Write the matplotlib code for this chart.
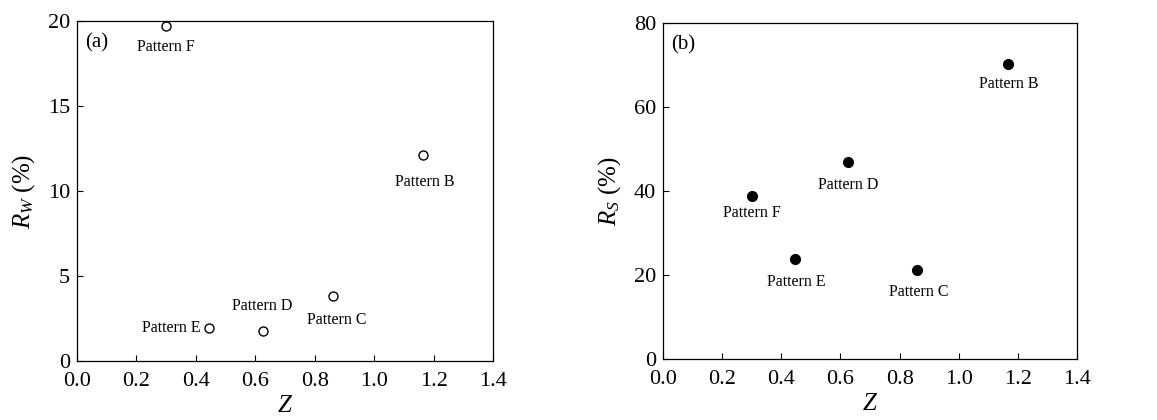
import matplotlib
matplotlib.use("Agg")
import matplotlib.pyplot as plt

plt.rcParams['font.family'] = ['Liberation Serif', 'DejaVu Serif']
plt.rcParams['mathtext.fontset'] = 'custom'
plt.rcParams['mathtext.rm'] = 'Liberation Serif'
plt.rcParams['mathtext.it'] = 'Liberation Serif:italic'

patterns = ['Pattern F', 'Pattern E', 'Pattern D', 'Pattern C', 'Pattern B']
z_values = [0.30, 0.445, 0.625, 0.86, 1.165]
rw_values = [19.7, 1.95, 1.75, 3.8, 12.1]
rs_values = [38.8, 23.8, 46.9, 21.2, 70.2]

x_ticks = [0.0, 0.2, 0.4, 0.6, 0.8, 1.0, 1.2, 1.4]
rw_ticks = [0, 5, 10, 15, 20]
rs_ticks = [0, 20, 40, 60, 80]

# label offsets in pixels (dx, dy, ha, va)
offs_a = [(0, -21, 'center', 'center'), (-9, 0, 'right', 'center'),
          (-1, 25, 'center', 'center'), (4, -24, 'center', 'center'),
          (2, -27, 'center', 'center')]
offs_b = [(0, -17, 'center', 'center'), (2, -23, 'center', 'center'),
          (0, -23, 'center', 'center'), (1, -22, 'center', 'center'),
          (1, -20, 'center', 'center')]

fig = plt.figure(figsize=(11.57, 4.2), dpi=100)
W, H = 1157, 420
ax1 = fig.add_axes([77 / W, 1 - 361 / H, 416 / W, 340 / H])
ax2 = fig.add_axes([663 / W, 1 - 359 / H, 414 / W, 336 / H])

def style(ax, yticks, ylabel, tag):
    ax.set_xlim(0, 1.4)
    ax.set_ylim(yticks[0], yticks[-1])
    ax.set_xticks(x_ticks)
    ax.set_xticklabels([f"{t:.1f}" for t in x_ticks])
    ax.set_yticks(yticks)
    ax.tick_params(direction='in', length=4, width=0.8, labelsize=16,
                   top=False, right=False)
    ax.tick_params(axis='x', pad=8)
    ax.tick_params(axis='y', pad=5)
    for s in ax.spines.values():
        s.set_linewidth(0.9)
    ax.set_xlabel('$Z$', fontsize=18, labelpad=3)
    ax.set_ylabel(ylabel, fontsize=18, labelpad=8)
    ax.text(0.02, 0.935, tag, transform=ax.transAxes, fontsize=15,
            ha='left', va='center')

ax1.plot(z_values, rw_values, 'o', linestyle='none', markersize=6.5,
         markerfacecolor='white', markeredgecolor='black', markeredgewidth=1.0)
for p, x, y, (dx, dy, ha, va) in zip(patterns, z_values, rw_values, offs_a):
    ax1.annotate(p, (x, y), xytext=(dx, dy), textcoords='offset pixels',
                 ha=ha, va=va, fontsize=11.5)
style(ax1, rw_ticks, '$R_W$ (%)', '(a)')

ax2.plot(z_values, rs_values, 'o', linestyle='none', markersize=7,
         markerfacecolor='black', markeredgecolor='black')
for p, x, y, (dx, dy, ha, va) in zip(patterns, z_values, rs_values, offs_b):
    ax2.annotate(p, (x, y), xytext=(dx, dy), textcoords='offset pixels',
                 ha=ha, va=va, fontsize=11.5)
style(ax2, rs_ticks, '$R_S$ (%)', '(b)')

fig.savefig('out.png', dpi=100)
